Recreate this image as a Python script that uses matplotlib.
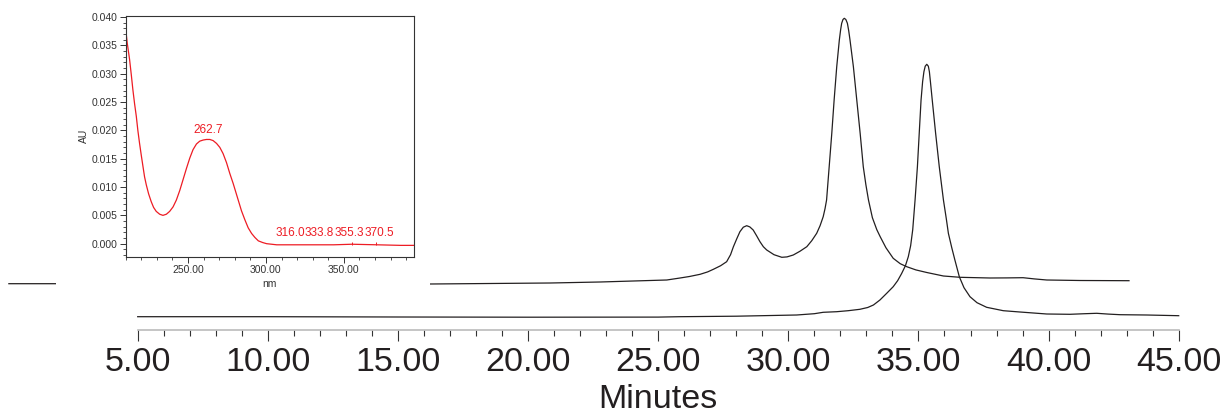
import numpy as np
import matplotlib
matplotlib.use("Agg")
import matplotlib.pyplot as plt
from matplotlib.patches import Rectangle
from matplotlib.ticker import MultipleLocator, FormatStrFormatter

plt.rcParams["font.family"] = ["Liberation Sans", "DejaVu Sans"]

# chromatogram, lower trace (minutes, AU)
t_lo = [5.00, 10.00, 15.00, 20.00, 25.00, 25.84, 28.00, 30.32, 31.00, 31.34,
        31.86, 32.30, 32.75, 33.05, 33.27, 33.52, 33.78, 34.03, 34.20, 34.35,
        34.50, 34.61, 34.70, 34.78, 34.87, 34.96, 35.03, 35.10, 35.16, 35.21,
        35.26, 35.32, 35.38, 35.42, 35.46, 35.53, 35.66, 35.80, 35.96, 36.07,
        36.15, 36.28, 36.40, 36.57, 36.75, 36.98, 37.25, 37.62, 38.26, 38.90,
        39.93, 40.82, 41.40, 41.85, 42.30, 42.75, 43.77, 45.00]
v_lo = [0.0000, 0.0000, -0.0003, -0.0005, -0.0004, 0.0000, 0.0005, 0.0017, 0.0030, 0.0044,
        0.0050, 0.0060, 0.0074, 0.0092, 0.0117, 0.0167, 0.0234, 0.0300, 0.0360, 0.0430,
        0.0510, 0.0600, 0.0710, 0.0870, 0.1167, 0.1500, 0.1834, 0.2167, 0.2350, 0.2450,
        0.2505, 0.2524, 0.2505, 0.2450, 0.2350, 0.2167, 0.1834, 0.1500, 0.1167, 0.0980,
        0.0834, 0.0690, 0.0567, 0.0400, 0.0290, 0.0200, 0.0140, 0.0094, 0.0060, 0.0047,
        0.0027, 0.0024, 0.0030, 0.0034, 0.0026, 0.0020, 0.0017, 0.0010]

# chromatogram, upper (stacked) trace
t_up = [0.05, 1.86, 5.00, 10.00, 16.23, 20.85, 22.76, 25.33, 25.84, 26.20,
        26.61, 26.90, 27.12, 27.40, 27.63, 27.78, 27.89, 28.02, 28.14, 28.27,
        28.40, 28.52, 28.65, 28.78, 28.91, 29.04, 29.17, 29.45, 29.75, 29.95,
        30.19, 30.45, 30.71, 30.90, 31.09, 31.22, 31.34, 31.41, 31.47, 31.57,
        31.67, 31.76, 31.86, 31.96, 32.01, 32.05, 32.10, 32.15, 32.21, 32.27,
        32.32, 32.37, 32.50, 32.63, 32.76, 32.88, 32.98, 33.08, 33.23, 33.40,
        33.53, 33.75, 34.03, 34.30, 34.55, 34.90, 35.32, 35.96, 36.60, 37.75,
        38.40, 39.02, 39.45, 39.93, 41.21, 43.09]
v_up = [0.0000, 0.0000, -0.0002, -0.0005, -0.0003, 0.0007, 0.0017, 0.0037, 0.0057, 0.0072,
        0.0094, 0.0118, 0.0144, 0.0180, 0.0220, 0.0290, 0.0370, 0.0450, 0.0520, 0.0565,
        0.0580, 0.0568, 0.0537, 0.0480, 0.0420, 0.0370, 0.0337, 0.0290, 0.0264, 0.0268,
        0.0287, 0.0325, 0.0370, 0.0430, 0.0504, 0.0580, 0.0670, 0.0750, 0.0837, 0.1170,
        0.1504, 0.1837, 0.2170, 0.2437, 0.2540, 0.2604, 0.2642, 0.2654, 0.2642, 0.2604,
        0.2530, 0.2437, 0.2170, 0.1837, 0.1504, 0.1170, 0.0990, 0.0837, 0.0660, 0.0540,
        0.0470, 0.0360, 0.0254, 0.0200, 0.0170, 0.0138, 0.0112, 0.0077, 0.0064, 0.0057,
        0.0058, 0.0060, 0.0048, 0.0037, 0.0032, 0.0030]
stack_offset = 0.033

# UV spectrum (inset)
nm = [209.9, 211.0, 212.5, 213.6, 214.6, 215.7, 216.8, 217.8, 218.9, 220.0,
      221.1, 222.1, 223.2, 224.7, 226.4, 227.9, 229.6, 231.8, 233.9, 236.1,
      238.2, 240.4, 242.5, 244.7, 246.8, 249.0, 251.1, 253.2, 255.4, 257.5,
      259.7, 261.8, 264.0, 266.1, 268.3, 270.4, 272.5, 274.7, 276.8, 279.0,
      282.2, 284.3, 286.5, 288.6, 290.8, 292.9, 295.1, 297.9, 300.4, 306.9,
      321.9, 343.4, 355.2, 371.5, 386.5, 395.0]
au = [0.0381, 0.0354, 0.0325, 0.0298, 0.0272, 0.0247, 0.0225, 0.0200, 0.0177, 0.0156,
      0.0136, 0.0118, 0.0104, 0.0088, 0.0074, 0.0064, 0.0057, 0.0052, 0.0050, 0.0052,
      0.0057, 0.0065, 0.0077, 0.0094, 0.0113, 0.0133, 0.0151, 0.0166, 0.0176, 0.0181,
      0.0183, 0.0184, 0.0184, 0.0182, 0.0177, 0.0170, 0.0159, 0.0143, 0.0124, 0.0106,
      0.0077, 0.0058, 0.0042, 0.0028, 0.0018, 0.0011, 0.0005, 0.0002, 0.0000, -0.0002,
      -0.0002, -0.0002, -0.0001, -0.0002, -0.0003, -0.0003]
peak_nm = [262.7, 316.0, 333.8, 355.3, 370.5]

W, H = 1225, 415
fig = plt.figure(figsize=(W / 100, H / 100), dpi=100)

# main chromatogram axes, bottom spine at y=330 px
ax = fig.add_axes([0, (H - 330) / H, 1, 330 / H])
ax.set_facecolor("none")
ppm = (1178.7 - 137.7) / 40.0
ax.set_xlim(5 - 137.7 / ppm, 5 + (W - 137.7) / ppm)
ax.set_ylim(-0.0133, 0.3167)

line_col = "#231f20"
ax.plot(t_lo, v_lo, color=line_col, lw=0.9)
ax.plot(t_up, np.array(v_up) + stack_offset, color=line_col, lw=0.9)

for s in ["left", "right", "top"]:
    ax.spines[s].set_visible(False)
ax.spines["bottom"].set_bounds(5, 45)
ax.spines["bottom"].set_color("#bbbbbb")
ax.spines["bottom"].set_linewidth(1.2)
ax.set_yticks([])
ax.set_xticks(np.arange(5, 46, 5))
ax.set_xticks([x for x in np.arange(5, 46, 1) if x % 5], minor=True)
ax.xaxis.set_major_formatter(FormatStrFormatter("%.2f"))
ax.tick_params(axis="x", which="major", direction="out", length=7.7, width=0.8,
               color="#333333", labelsize=24.5, pad=4.2, labelcolor=line_col)
ax.tick_params(axis="x", which="minor", direction="out", length=4.3, width=0.8,
               color="#333333")
ax.set_xlabel("Minutes", fontsize=24.5, color=line_col)
ax.xaxis.set_label_coords((137.7 + 1178.7) / 2 / W, -0.164)

# white panel that hides the chromatogram behind the inset
fig.patches.append(Rectangle((56 / W, (H - 295) / H), 374 / W, 295 / H,
                             transform=fig.transFigure, facecolor="white",
                             edgecolor="none", zorder=0.5))

# inset spectrum
ins = fig.add_axes([125.7 / W, (H - 256.7) / H, 288.3 / W, 240.7 / H], zorder=1)
red = "#ed1c24"
ins.plot(nm, au, color=red, lw=0.9)
ins.vlines([355.3, 370.5], -0.00015, 0.00035, color=red, lw=0.7)
ins.set_xlim(210, 395)
ins.set_ylim(-0.0023, 0.0402)

# labels sit side by side like the instrument software draws them
shift_pt = {262.7: 0, 316.0: -0.7, 333.8: 0.6, 355.3: -1.8, 370.5: 2.6}
for p in peak_nm:
    if p < 300:
        y = np.interp(p, nm, au) + 0.0007
    else:
        y = 0.0009
    ins.annotate(f"{p:.1f}", (p, y), xytext=(shift_pt[p], 0),
                 textcoords="offset points", color=red, fontsize=8.5,
                 ha="center", va="bottom")

ins.xaxis.set_major_locator(MultipleLocator(50))
ins.xaxis.set_minor_locator(MultipleLocator(10))
ins.yaxis.set_major_locator(MultipleLocator(0.005))
ins.yaxis.set_minor_locator(MultipleLocator(0.001))
ins.xaxis.set_major_formatter(FormatStrFormatter("%.2f"))
ins.yaxis.set_major_formatter(FormatStrFormatter("%.3f"))
ins.tick_params(which="major", length=4, width=0.7, labelsize=7.5, pad=2,
                color="#333333", labelcolor="#333333")
ins.tick_params(which="minor", length=2.2, width=0.6, color="#333333")
for s in ins.spines.values():
    s.set_linewidth(0.8)
    s.set_color("#333333")
ins.set_xlabel("nm", fontsize=7.5, labelpad=3, color="#333333")
ins.set_ylabel("AU", fontsize=7.5, labelpad=1.5, color="#333333")

fig.savefig("out.png", dpi=100)
